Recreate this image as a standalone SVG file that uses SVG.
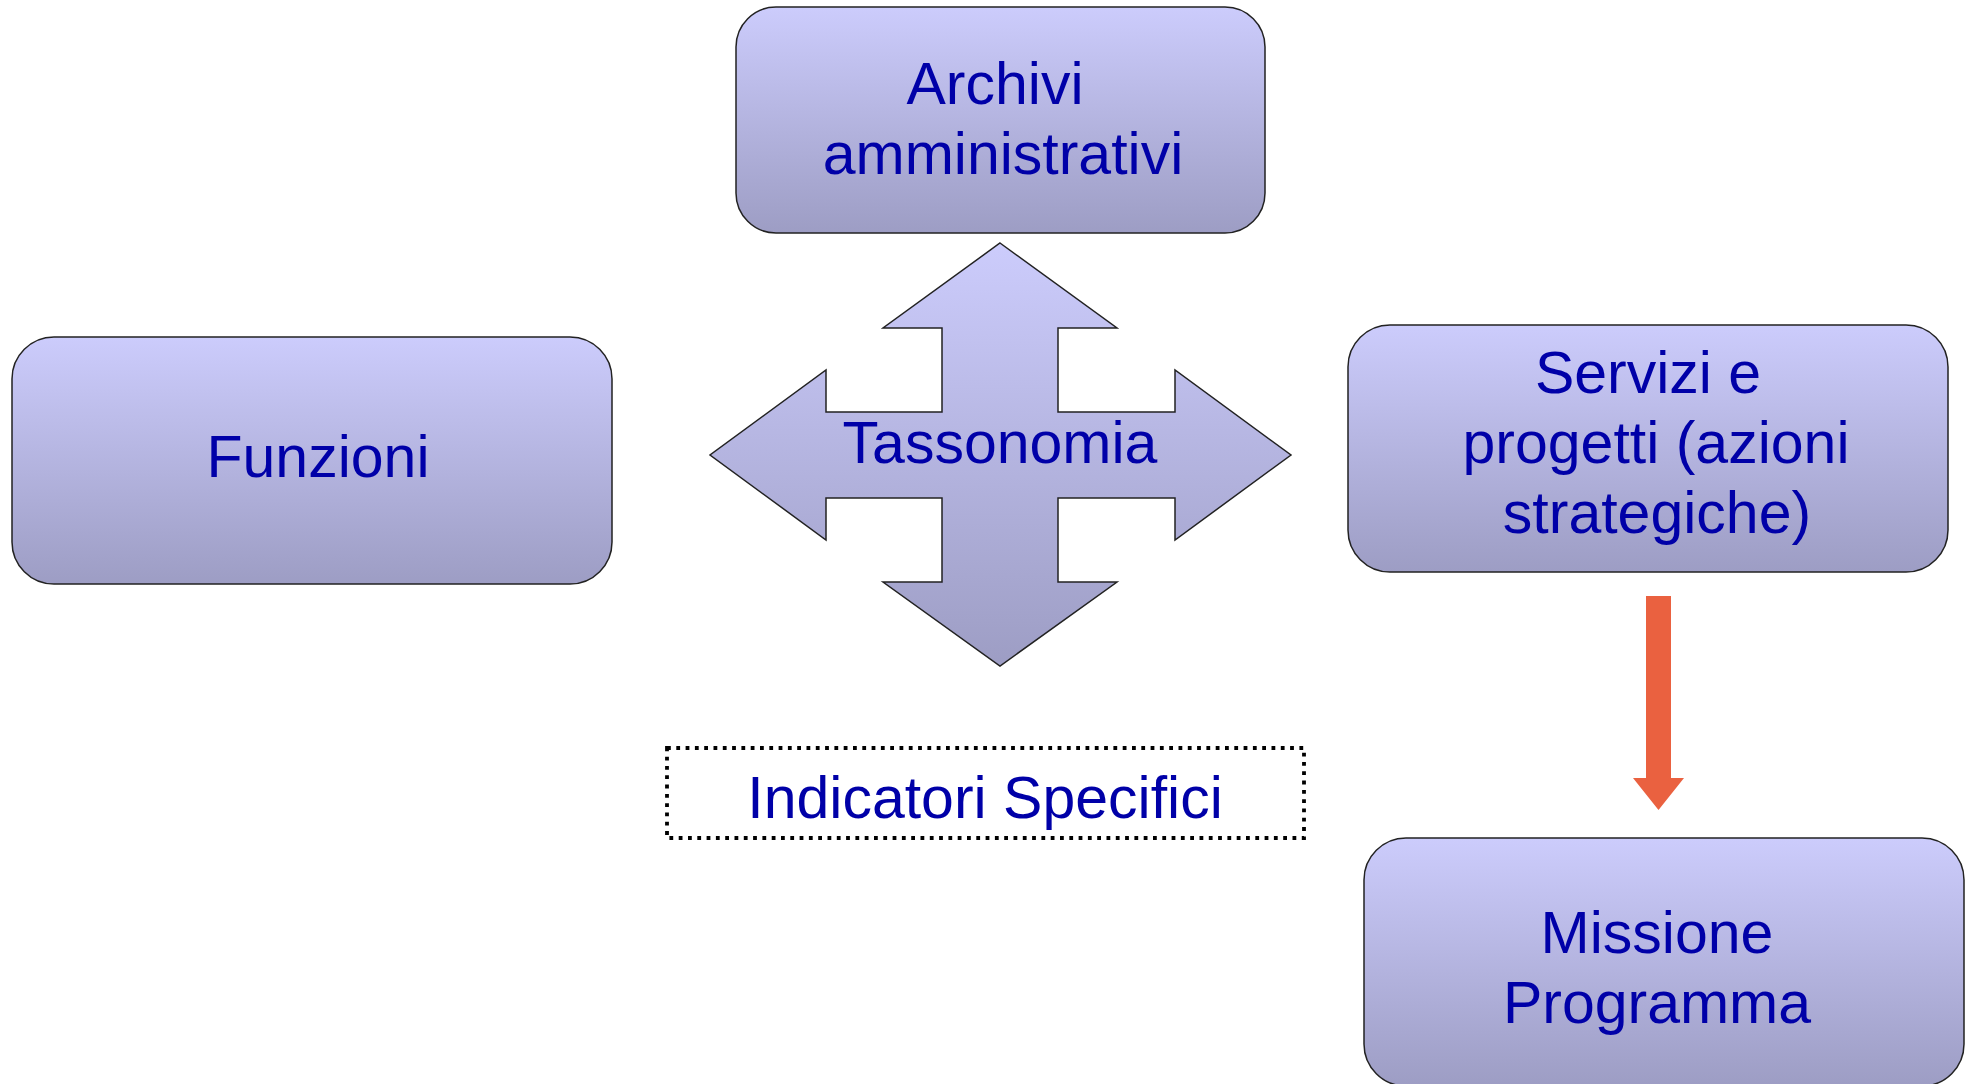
<svg xmlns="http://www.w3.org/2000/svg" width="1973" height="1084" viewBox="0 0 1973 1084">
<defs>
<linearGradient id="g" x1="0" y1="0" x2="0" y2="1">
<stop offset="0" stop-color="#CCCCFC"/>
<stop offset="1" stop-color="#9D9DC4"/>
</linearGradient>
<style>
.box{fill:url(#g);stroke:#222;stroke-width:1.5}
.t{font-family:"Liberation Sans",Arial,sans-serif;font-size:59px;fill:#0000A8;text-anchor:middle}
</style>
</defs>
<rect width="1973" height="1084" fill="#fff"/>
<g id="archivi">
<rect class="box" x="736" y="7" width="529" height="226" rx="40"/>
<text class="t" x="995" y="104">Archivi</text>
<text class="t" x="1003" y="174">amministrativi</text>
</g>
<g id="funzioni">
<rect class="box" x="12" y="337" width="600" height="247" rx="42"/>
<text class="t" x="318" y="477">Funzioni</text>
</g>
<g id="tassonomia">
<path class="box" d="M1000,243 L1117,328 L1058,328 L1058,412 L1175,412 L1175,370 L1291,455 L1175,540 L1175,498 L1058,498 L1058,582 L1117,582 L1000,666 L883,582 L942,582 L942,498 L826,498 L826,540 L710,455 L826,370 L826,412 L942,412 L942,328 L883,328 Z"/>
<text class="t" x="1000" y="463">Tassonomia</text>
</g>
<g id="servizi">
<rect class="box" x="1348" y="325" width="600" height="247" rx="42"/>
<text class="t" x="1648" y="393">Servizi e</text>
<text class="t" x="1656" y="463">progetti (azioni</text>
<text class="t" x="1657" y="533">strategiche)</text>
</g>
<g id="indicatori">
<rect x="667" y="748" width="637" height="90" fill="none" stroke="#000" stroke-width="3.8" stroke-dasharray="3.8 5.5"/>
<text class="t" x="985" y="818">Indicatori Specifici</text>
</g>
<g id="missione">
<rect class="box" x="1364" y="838" width="600" height="248" rx="42"/>
<text class="t" x="1657" y="953">Missione</text>
<text class="t" x="1657" y="1023">Programma</text>
</g>
<g id="connectors">
<path d="M1646,596 L1671,596 L1671,778 L1684,778 L1658.5,810 L1633,778 L1646,778 Z" fill="#EA6140"/>
</g>
</svg>
